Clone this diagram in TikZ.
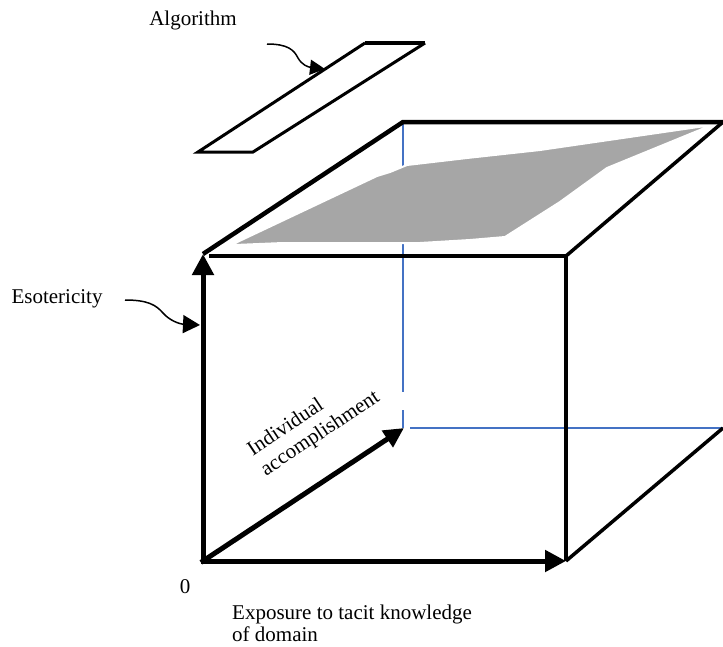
\documentclass[tikz,border=0pt]{standalone}
\usepackage{fontspec}
\setmainfont{Liberation Serif}
\usetikzlibrary{arrows.meta}
\definecolor{surf}{RGB}{166,166,166}
\definecolor{hid}{RGB}{68,114,196}
\begin{document}
\begin{tikzpicture}[x=1pt,y=-1pt,
  lbl/.style={font=\fontsize{21}{22}\selectfont, inner sep=0pt},
  edge/.style={line width=4.5pt, line join=miter},
  thinedge/.style={line width=3.5pt},
  axis/.style={line width=5pt, line cap=rect, -{Triangle[length=21pt,width=21pt]}},
  pointer/.style={line width=1.5pt, -{Triangle[length=17pt,width=18pt]}},
  hidden/.style={hid, line width=1.3pt}]
\useasboundingbox (0,0) rectangle (723,646);
% cube vertices
\coordinate (O) at (203,561);
\coordinate (FBR) at (566,561);
\coordinate (FTL) at (203,254);
\coordinate (FTR) at (566,256);
\coordinate (BTL) at (403,122);
\coordinate (BTR) at (723,122);
\coordinate (BBR) at (723,428);
\coordinate (BBL) at (404,428);
% hidden edges
\draw[hidden] (BTL) -- (403,392) (403,410) -- (403,428);
\draw[hidden] (410,428) -- (BBR);
% surface
\filldraw[fill=surf, draw=white, line width=2pt]
  (205,253) -- (233,244) -- (377,176) -- (390,172) -- (407,165) -- (467,158)
  -- (540,150) -- (712,125) -- (607,168) -- (560,202) -- (505,237) -- (470,240)
  -- (420,243) -- (360,243) -- (283,243) -- (235,245) -- cycle;
% visible edges
\draw[edge] (FTL) -- (BTL) -- (BTR);
\draw[edge] ([xshift=6pt]203,256) -- (FTR) -- (FBR);
\draw[thinedge] (FTR) -- (BTR);
\draw[thinedge] (FBR) -- (BBR);
% axes
\draw[axis] (O) -- (FTL);
\draw[axis] (O) -- (FBR);
\draw[axis, -{Triangle[length=20pt,width=19pt]}] (O) -- (BBL);
% algorithm bar
\coordinate (A1) at (198,152);
\coordinate (A2) at (365,43);
\coordinate (A3) at (425,43);
\coordinate (A4) at (253,152);
\draw[line width=3pt, line join=miter] (A3) -- (A4) -- (A1) -- (A2);
\draw[line width=4pt] (A2) -- (A3);
% labels
\node[lbl, anchor=base] (alg) at (193,25) {Algorithm};
\node[lbl, anchor=base] (eso) at (57,303) {Esotericity};
\node[lbl, anchor=base] (zero) at (185,593) {0};
\node[lbl, anchor=north west, align=left] (exp) at (232,605) {Exposure to tacit knowledge\\of domain};
\node[lbl, rotate=33.6, align=left, font=\fontsize{21}{24}\selectfont] (ind) at (314,424) {Individual\\accomplishment};
% pointers
\coordinate (algS) at (267,44);
\coordinate (algT) at (325,69);
\draw[pointer, -{Triangle[length=15pt,width=15pt]}] (algS) .. controls (288,44) and (294,50) .. (298,58) .. controls (302,65) and (308,67) .. (algT);
\coordinate (esoS) at (125,300);
\coordinate (esoT) at (200,325);
\draw[pointer] (esoS) .. controls (148,300) and (156,305) .. (163,313) .. controls (170,321) and (180,324) .. (esoT);
\end{tikzpicture}
\end{document}
